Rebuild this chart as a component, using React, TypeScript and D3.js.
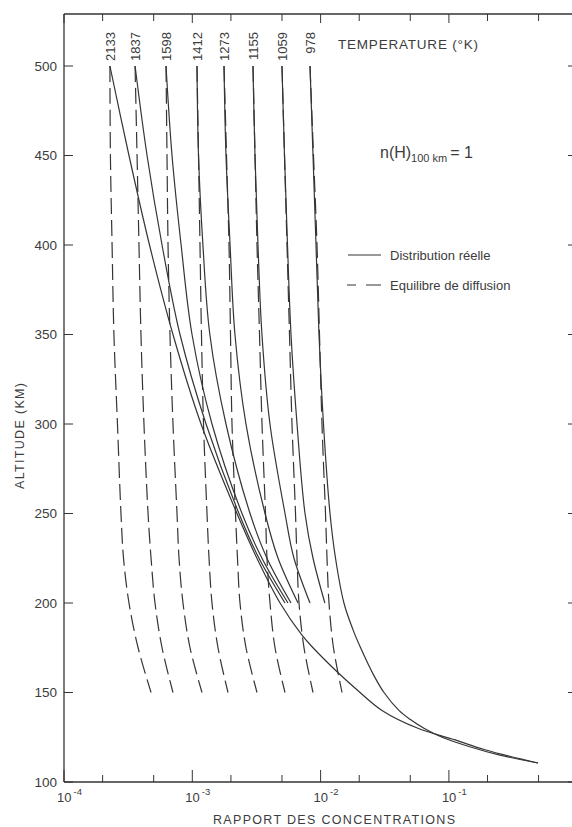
import * as d3 from "d3";

// --- chart data (altitude km, concentration ratio) ---
const temperatures = [2133, 1837, 1598, 1412, 1273, 1155, 1059, 978];

// diffusion equilibrium (dashed), same altitudes for every temperature
const altDiff = [500, 450, 400, 350, 300, 250, 225, 200, 175, 150];
const diff2133 = [2.28e-4, 2.30e-4, 2.37e-4, 2.45e-4, 2.61e-4, 2.78e-4, 2.91e-4, 3.21e-4, 3.78e-4, 4.77e-4];
const diff1837 = [3.58e-4, 3.71e-4, 3.84e-4, 3.98e-4, 4.20e-4, 4.52e-4, 4.77e-4, 5.12e-4, 5.81e-4, 7.07e-4];
const diff1598 = [6.24e-4, 6.35e-4, 6.47e-4, 6.70e-4, 7.07e-4, 7.60e-4, 7.88e-4, 8.46e-4, 9.60e-4, 1.19e-3];
const diff1412 = [1.088e-3, 1.118e-3, 1.148e-3, 1.179e-3, 1.223e-3, 1.302e-3, 1.35e-3, 1.424e-3, 1.586e-3, 1.898e-3];
const diff1273 = [1.767e-3, 1.848e-3, 1.932e-3, 1.985e-3, 2.039e-3, 2.171e-3, 2.25e-3, 2.354e-3, 2.622e-3, 3.194e-3];
const diff1155 = [2.973e-3, 3.082e-3, 3.194e-3, 3.341e-3, 3.494e-3, 3.72e-3, 3.821e-3, 4.033e-3, 4.413e-3, 5.279e-3];
const diff1059 = [5.002e-3, 5.232e-3, 5.472e-3, 5.723e-3, 5.985e-3, 6.374e-3, 6.548e-3, 6.787e-3, 7.424e-3, 8.727e-3];
const diff978 = [8.269e-3, 8.805e-3, 9.374e-3, 9.804e-3, 1.025e-2, 1.092e-2, 1.122e-2, 1.163e-2, 1.26e-2, 1.469e-2];

// real distribution (solid)
const altReal = [500, 450, 400, 350, 300, 250, 225, 200];
const real1837 = [3.58e-4, 4.44e-4, 5.81e-4, 8.02e-4, 1.28e-3, 2.31e-3, 3.31e-3, 5.28e-3];
const real1598 = [6.24e-4, 6.95e-4, 8.18e-4, 9.95e-4, 1.424e-3, 2.44e-3, 3.49e-3, 5.57e-3];
const real1412 = [1.088e-3, 1.118e-3, 1.21e-3, 1.37e-3, 1.83e-3, 2.82e-3, 3.82e-3, 5.88e-3];
const real1273 = [1.767e-3, 1.831e-3, 1.97e-3, 2.15e-3, 2.62e-3, 3.69e-3, 4.66e-3, 6.67e-3];
const real1155 = [2.97e-3, 3.08e-3, 3.25e-3, 3.49e-3, 4.03e-3, 5.28e-3, 6.2e-3, 8.27e-3];
const real1059 = [5.0e-3, 5.23e-3, 5.52e-3, 5.88e-3, 6.55e-3, 7.56e-3, 8.73e-3, 1.08e-2];

const alt2133 = [500, 450, 400, 350, 300, 250, 225, 200, 182, 175, 161, 150, 140, 130, 123.5, 118, 110.6];
const real2133 = [2.28e-4, 3.21e-4, 4.64e-4, 7.07e-4, 1.17e-3, 2.23e-3, 3.19e-3, 4.83e-3, 7.16e-3, 8.73e-3, 1.37e-2, 2.03e-2, 3.01e-2, 5.74e-2, 1.12e-1, 1.91e-1, 4.95e-1];

const alt978 = [500, 450, 400, 350, 300, 250, 225, 200, 185, 175, 160, 150, 140, 135, 130, 125, 120, 115, 110.6];
const real978 = [8.269e-3, 8.727e-3, 9.21e-3, 9.716e-3, 1.053e-2, 1.184e-2, 1.307e-2, 1.52e-2, 1.79e-2, 2.05e-2, 2.58e-2, 3.12e-2, 4.08e-2, 4.98e-2, 6.39e-2, 8.84e-2, 1.41e-1, 2.5e-1, 4.95e-1];

const yTicks = [100, 150, 200, 250, 300, 350, 400, 450, 500];
const xMajor = [1e-4, 1e-3, 1e-2, 1e-1, 1];
const xMinor = [2e-4, 5e-4, 2e-3, 5e-3, 2e-2, 5e-2, 2e-1, 5e-1];
const xLabels = ["-4", "-3", "-2", "-1"];

const W = 572;
const H = 827;
const INK = "#353535";
const TEXT = "#3c3c3c";
const FONT = "'Liberation Sans', Arial, sans-serif";

const xScale = d3.scaleLog().domain([1e-4, 1]).range([64, 577.2]);
const yScale = d3.scaleLinear().domain([100, 500]).range([782, 66]);
const top = 14;
const left = 64;
const right = 577;
const bottom = 782;

type Pt = [number, number];
const zip = (alts: number[], vals: number[]): Pt[] => alts.map((a, i) => [a, vals[i]]);

const dashed: Pt[][] = [diff2133, diff1837, diff1598, diff1412, diff1273, diff1155, diff1059, diff978].map(v => zip(altDiff, v));
const solid: Pt[][] = [
  zip(alt2133, real2133),
  zip(altReal, real1837),
  zip(altReal, real1598),
  zip(altReal, real1412),
  zip(altReal, real1273),
  zip(altReal, real1155),
  zip(altReal, real1059),
  zip(alt978, real978),
];

const line = d3
  .line<Pt>()
  .x(d => xScale(d[1]))
  .y(d => yScale(d[0]))
  .curve(d3.curveCatmullRom.alpha(0.5));

export default function App() {
  return (
    <svg
      width={W}
      height={H}
      style={{ position: "absolute", left: 0, top: 0, background: "#fff" }}
      fontFamily={FONT}
    >
      <rect width={W} height={H} fill="#fff" />

      {/* frame */}
      <line x1={left} y1={top} x2={left} y2={bottom} stroke={INK} strokeWidth={1.3} />
      <line x1={left} y1={bottom} x2={right} y2={bottom} stroke={INK} strokeWidth={1.3} />
      <line x1={left} y1={top} x2={right} y2={top} stroke={INK} strokeWidth={1.3} />
      <line x1={right} y1={top} x2={right} y2={bottom} stroke={INK} strokeWidth={1.3} />

      {/* y ticks, inward on both sides */}
      {yTicks.map(t => (
        <g key={t}>
          <line x1={left} x2={left + 9} y1={yScale(t)} y2={yScale(t)} stroke={INK} strokeWidth={1} />
          <line x1={right - 9} x2={right} y1={yScale(t)} y2={yScale(t)} stroke={INK} strokeWidth={1} />
          <text x={57} y={yScale(t) + 4.5} textAnchor="end" fontSize={13.5} fill={TEXT}>
            {t}
          </text>
        </g>
      ))}

      {/* x ticks, inward top and bottom */}
      {xMajor.map(t => (
        <g key={t}>
          <line x1={xScale(t)} x2={xScale(t)} y1={bottom} y2={bottom - 12} stroke={INK} strokeWidth={1} />
          <line x1={xScale(t)} x2={xScale(t)} y1={top} y2={top + 9} stroke={INK} strokeWidth={1} />
        </g>
      ))}
      {xMinor.map(t => (
        <g key={t}>
          <line x1={xScale(t)} x2={xScale(t)} y1={bottom} y2={bottom - 7} stroke={INK} strokeWidth={1} />
          <line x1={xScale(t)} x2={xScale(t)} y1={top} y2={top + 7} stroke={INK} strokeWidth={1} />
        </g>
      ))}
      {xLabels.map((s, i) => (
        <text key={s} x={xScale(xMajor[i]) - 7} y={802} fontSize={13} fill={TEXT}>
          10
          <tspan dx={2} dy={-7} fontSize={9.5}>
            {s}
          </tspan>
        </text>
      ))}

      {/* axis titles */}
      <text x={213} y={824} fontSize={12.5} fill={TEXT} textLength={242} lengthAdjust="spacing">
        RAPPORT DES CONCENTRATIONS
      </text>
      <text
        transform={`translate(24,${489}) rotate(-90)`}
        fontSize={12.5}
        fill={TEXT}
        textLength={106}
        lengthAdjust="spacing"
      >
        ALTITUDE (KM)
      </text>

      {/* curves */}
      {dashed.map((d, i) => (
        <path key={"d" + i} d={line(d) || ""} fill="none" stroke={INK} strokeWidth={1.2} strokeDasharray="16,6" />
      ))}
      {solid.map((d, i) => (
        <path key={"s" + i} d={line(d) || ""} fill="none" stroke={INK} strokeWidth={1.2} />
      ))}

      {/* temperature labels, placed at the top of each curve */}
      {temperatures.map((t, i) => (
        <text
          key={t}
          transform={`translate(${xScale(dashed[i][0][1]) + 5},32) rotate(-90)`}
          textAnchor="end"
          fontSize={13}
          fill={TEXT}
        >
          {t}
        </text>
      ))}
      <text x={338} y={49} fontSize={13.5} fill={TEXT} textLength={140} lengthAdjust="spacing">
        TEMPERATURE (°K)
      </text>

      <text x={380} y={158} fontSize={16} fill={TEXT}>
        n(H)
        <tspan fontSize={11} dy={4}>100 km</tspan>
        <tspan dy={-4} dx={3}>= 1</tspan>
      </text>

      {/* legend */}
      <line x1={348} x2={381} y1={255} y2={255} stroke={INK} strokeWidth={1.2} />
      <text x={390} y={259.5} fontSize={13} fill={TEXT}>
        Distribution réelle
      </text>
      <line x1={347} x2={381} y1={285} y2={285} stroke={INK} strokeWidth={1.2} strokeDasharray="9,10,15" />
      <text x={390} y={289.5} fontSize={13} fill={TEXT}>
        Equilibre de diffusion
      </text>
    </svg>
  );
}
